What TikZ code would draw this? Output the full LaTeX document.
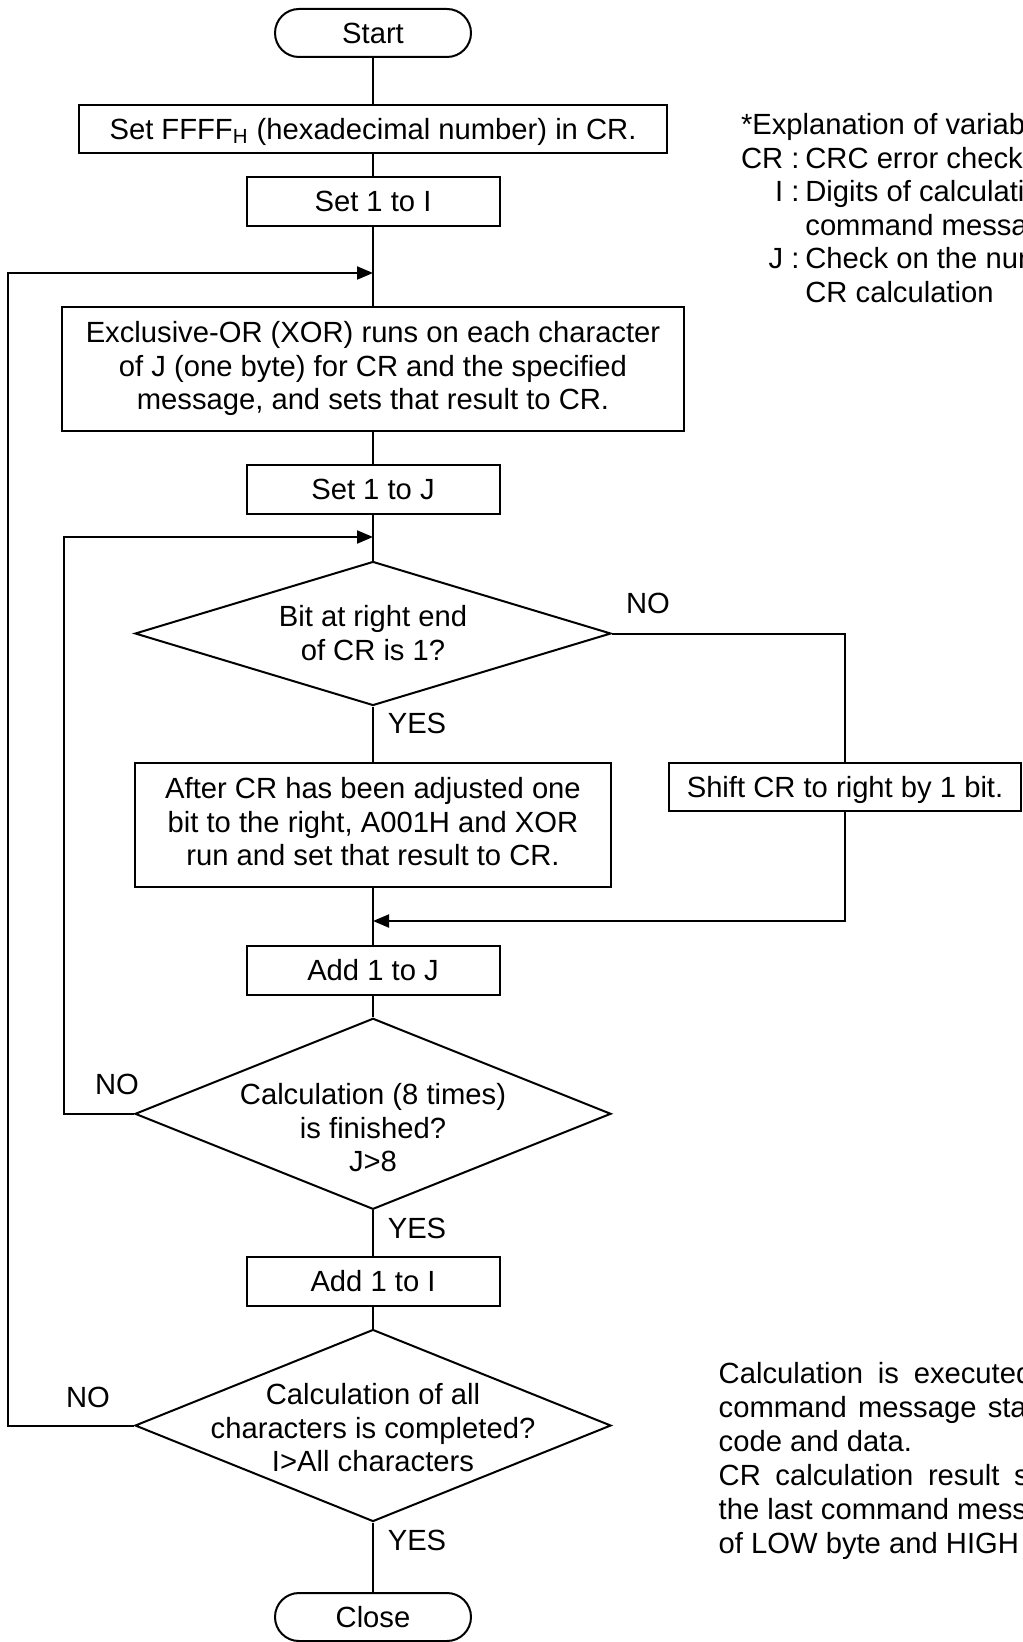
\documentclass[tikz,border=0pt]{standalone}
\usepackage{fontspec}
\setmainfont{Liberation Sans}
\usetikzlibrary{arrows.meta,shapes.geometric}
\newcommand\vs{\rule[-3.15pt]{0pt}{16.65pt}}
\begin{document}
\begin{tikzpicture}[x=0.5pt,y=-0.5pt,line width=1pt,
  font=\fontsize{14.6pt}{16.75pt}\selectfont,
  box/.style={draw,rectangle,inner sep=0pt,align=center,
    execute at begin node=\vs,execute at end node=\vs},
  term/.style={box,rounded corners=12pt,minimum width=98pt,minimum height=24pt},
  small/.style={box,minimum width=126.5pt,minimum height=24.5pt},
  dec/.style={draw,diamond,inner sep=0pt,minimum width=238pt},
  lbl/.style={inner sep=0pt,execute at begin node=\vs,execute at end node=\vs},
  arr/.style={-{Triangle[length=8pt,width=6.5pt]}}]
\useasboundingbox (0,0) rectangle (1022,1642);
\clip (0,0) rectangle (1022,1642);

% main column
\node[term] (start) at (373,33) {Start};
\node[box,minimum width=294pt,minimum height=24pt] (b1) at (373,129)
  {Set FFFF\textsubscript{H} (hexadecimal number) in CR.};
\node[small] (b2) at (373,201.5) {Set 1 to I};
\coordinate (j1) at (373,273);
\node[box,minimum width=311pt,minimum height=62pt] (b3) at (373,369)
  {Exclusive-OR (XOR) runs on each character\\of J (one byte) for CR and the specified\\message, and sets that result to CR.};
\node[small] (b4) at (373,489.5) {Set 1 to J};
\coordinate (j2) at (373,537);
\node[dec,minimum height=72pt] (d1) at (373,633.5) {};
\node[lbl,align=center] (d1t) at (373,636) {Bit at right end\\of CR is 1?};
\node[box,minimum width=238pt,minimum height=61.7pt] (b5) at (373,825)
  {After CR has been adjusted one\\bit to the right, A001H and XOR\\run and set that result to CR.};
\node[box,minimum width=176pt,minimum height=23.7pt] (sh) at (845,787) {Shift CR to right by 1 bit.};
\coordinate (j3) at (373,921);
\node[small] (b6) at (373,970) {Add 1 to J};
\node[dec,minimum height=95.5pt] (d2) at (373,1113.8) {};
\node[lbl,align=center] (d2t) at (373,1131) {Calculation (8 times)\\is finished?\\J>8};
\node[small] (b7) at (373,1281.5) {Add 1 to I};
\node[dec,minimum height=96pt] (d3) at (373,1425.5) {};
\node[lbl,align=center] (d3t) at (373,1431) {Calculation of all\\characters is completed?\\I>All characters};
\node[term] (close) at (373,1617) {Close};

% branch labels
\node[lbl] (no1) at (648,603) {NO};
\node[lbl] (yes1) at (417,723) {YES};
\node[lbl] (no2) at (117,1084) {NO};
\node[lbl] (yes2) at (417,1228) {YES};
\node[lbl] (no3) at (88,1397) {NO};
\node[lbl] (yes3) at (417,1540) {YES};

% connectors
\draw (start.south) -- (b1.north);
\draw (b1.south) -- (b2.north);
\draw (b2.south) -- (b3.north);
\draw (b3.south) -- (b4.north);
\draw (b4.south) -- (d1.north);
\draw (d1.south) -- (b5.north);
\draw (b5.south) -- (b6.north);
\draw (b6.south) -- (d2.north);
\draw (d2.south) -- (b7.north);
\draw (b7.south) -- (d3.north);
\draw (d3.south) -- (close.north);
\draw (d1.east) -| (sh.north);
\draw[arr] (sh.south) |- (j3);
\draw[arr] (d2.west) -- ++(-70.3,0) |- (j2);
\draw[arr] (d3.west) -- ++(-126,0) |- (j1);

% side texts
\node[anchor=north west,inner sep=0pt] (vars) at (740,110.3)
  {\begin{tabular}{@{}r@{\hspace{3pt}}l@{}}
   \multicolumn{2}{@{}l}{*Explanation of variables}\\
   CR :& CRC error check\\
   I :& Digits of calculation\\
   & command message\\
   J :& Check on the number\\
   & CR calculation
   \end{tabular}};
\node[lbl,anchor=north west,align=left,font=\fontsize{14.6pt}{17pt}\selectfont] (note) at (717.7,1361.8)
  {{\spaceskip=7.4pt Calculation is executed}\\
   {\spaceskip=5.6pt command message starting}\\
   code and data.\\
   {\spaceskip=7.3pt CR calculation result should}\\
   the last command message\\
   of LOW byte and HIGH};
\end{tikzpicture}
\end{document}
